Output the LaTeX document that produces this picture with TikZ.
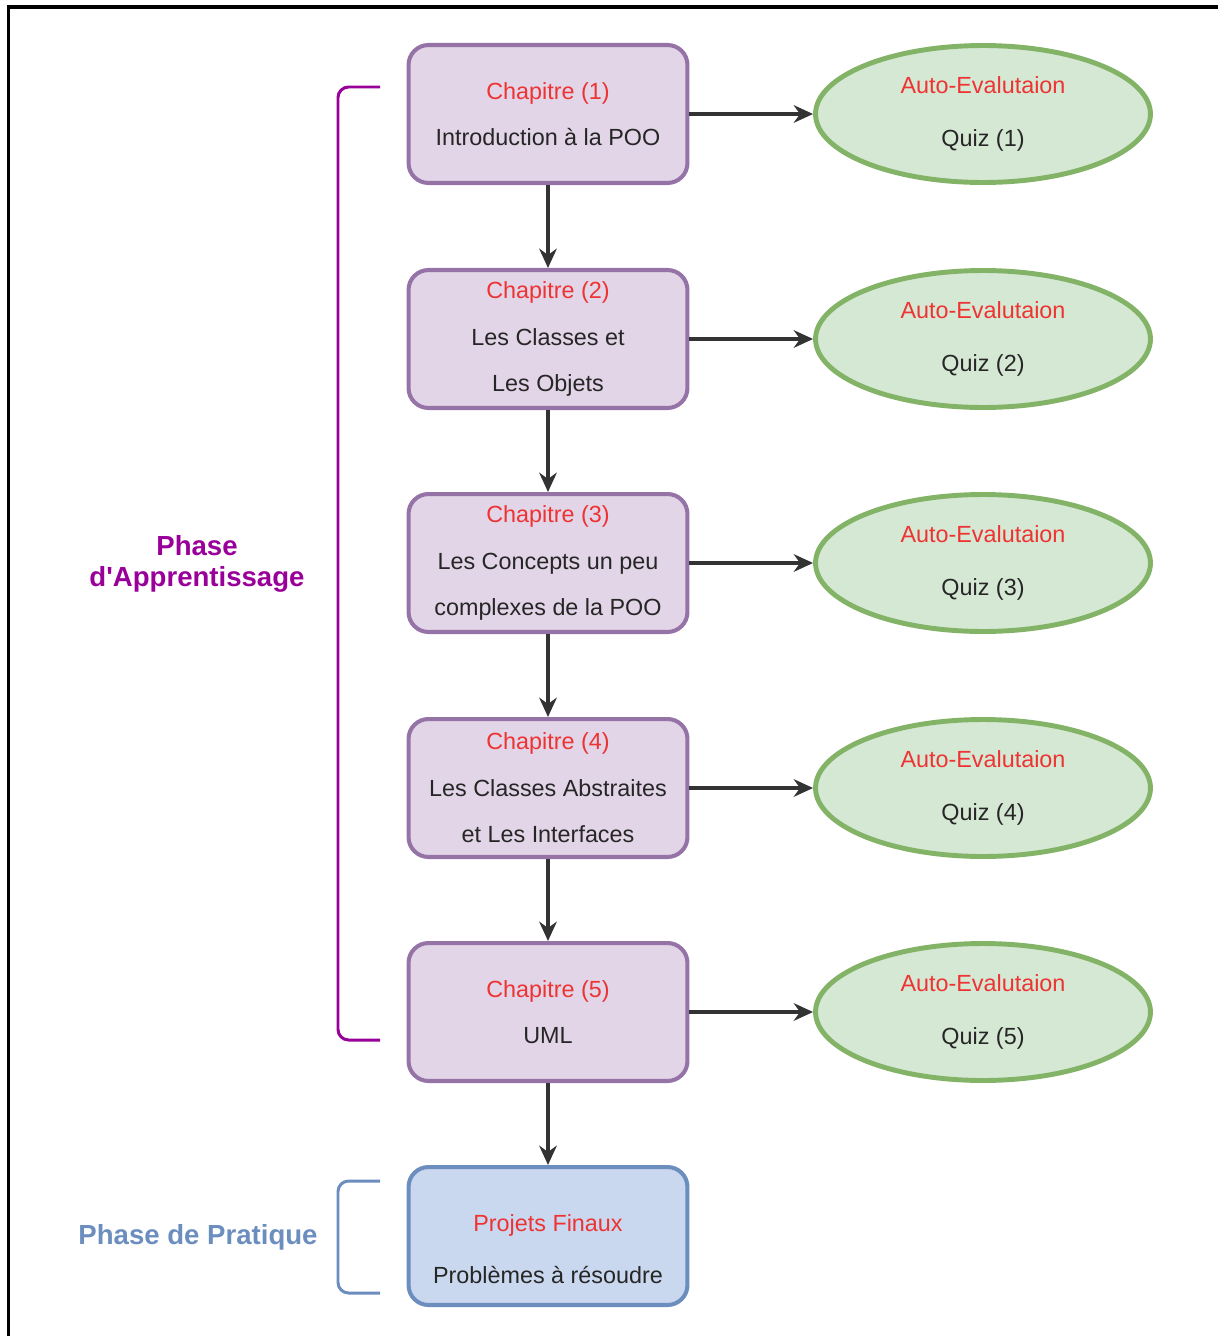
\documentclass[tikz,border=0pt]{standalone}
\usepackage{fontspec}
\setmainfont{Liberation Sans}
\usetikzlibrary{shapes.geometric}
\usetikzlibrary{arrows.meta}
\definecolor{violetfond}{HTML}{E1D5E7}
\definecolor{violetbord}{HTML}{9673A6}
\definecolor{vertfond}{HTML}{D5E8D4}
\definecolor{vertbord}{HTML}{82B366}
\definecolor{bleufond}{HTML}{C9D8EE}
\definecolor{bleubord}{HTML}{6C8EBF}
\definecolor{rouge}{HTML}{EE3333}
\definecolor{pourpre}{HTML}{990099}
\definecolor{fleche}{HTML}{333333}
\newcommand{\titre}[1]{\textcolor{rouge}{#1}}

\begin{document}
\begin{tikzpicture}[x=0.02cm,y=-0.02cm,>={Stealth[length=11pt,width=10pt]},
chapitre/.style={rectangle,rounded corners=4mm,draw=violetbord,fill=violetfond,line width=2.3pt,
minimum width=5.58cm,minimum height=2.76cm,inner sep=0pt,align=center,text=black!85,
font=\fontsize{13.3}{26.5}\selectfont},
projet/.style={chapitre,draw=bleubord,fill=bleufond},
evaluation/.style={ellipse,draw=vertbord,fill=vertfond,line width=2.8pt,
minimum width=6.7cm,minimum height=2.74cm,inner sep=0pt,align=center,text=black!85,
font=\fontsize{13.3}{30}\selectfont},
texte/.style={align=center,text=black!85,font=\fontsize{13.3}{26}\selectfont},
phase/.style={align=center,font=\fontsize{15.7}{18}\selectfont\bfseries}]

\useasboundingbox (0,0) rectangle (1218,1336);

% cadre
\draw[line width=2pt] (8.5,1336) -- (8.5,7) -- (1218,7);

% chapitres
\node[chapitre](chap1) at (548,114){\titre{Chapitre (1)}\\Introduction à la POO};
\node[chapitre](chap2) at (548,339){\titre{Chapitre (2)}\\Les Classes et\\Les Objets};
\node[chapitre](chap3) at (548,563){\titre{Chapitre (3)}\\Les Concepts un peu\\complexes de la POO};
\node[chapitre](chap4) at (548,788){\titre{Chapitre (4)}\\Les Classes Abstraites\\et Les Interfaces};
\node[chapitre](chap5) at (548,1012){\titre{Chapitre (5)}\\UML};

\node[projet](projets) at (548,1236){};
\node[texte](projets-texte) at (548,1249){\titre{Projets Finaux}\\[3.5pt]Problèmes à résoudre};

% quiz
\node[evaluation](quiz1) at (983,114){\titre{Auto-Evalutaion}\\Quiz (1)};
\node[evaluation](quiz2) at (983,339){\titre{Auto-Evalutaion}\\Quiz (2)};
\node[evaluation](quiz3) at (983,563){\titre{Auto-Evalutaion}\\Quiz (3)};
\node[evaluation](quiz4) at (983,788){\titre{Auto-Evalutaion}\\Quiz (4)};
\node[evaluation](quiz5) at (983,1012){\titre{Auto-Evalutaion}\\Quiz (5)};

\begin{scope}[->, draw=fleche, line width=1.8pt]
\draw (chap1)--(chap2);
\draw (chap2)--(chap3);
\draw (chap3)--(chap4);
\draw (chap4)--(chap5);
\draw (chap5)--(projets);
\draw (chap1)--(quiz1);
\draw (chap2)--(quiz2);
\draw (chap3)--(quiz3);
\draw (chap4)--(quiz4);
\draw (chap5)--(quiz5);
\end{scope}

% phases
\draw[pourpre, line width=1.7pt, rounded corners=6pt] (380,87) -- (338,87) -- (338,1040) -- (380,1040);
\node[phase, text=pourpre](apprentissage) at (197,564){Phase\\d\textquotesingle Apprentissage};

\draw[bleubord, line width=1.7pt, rounded corners=6pt] (380,1181) -- (338,1181) -- (338,1293) -- (380,1293);
\node[phase, text=bleubord](pratique) at (198,1237){Phase de Pratique};

\end{tikzpicture}
\end{document}
